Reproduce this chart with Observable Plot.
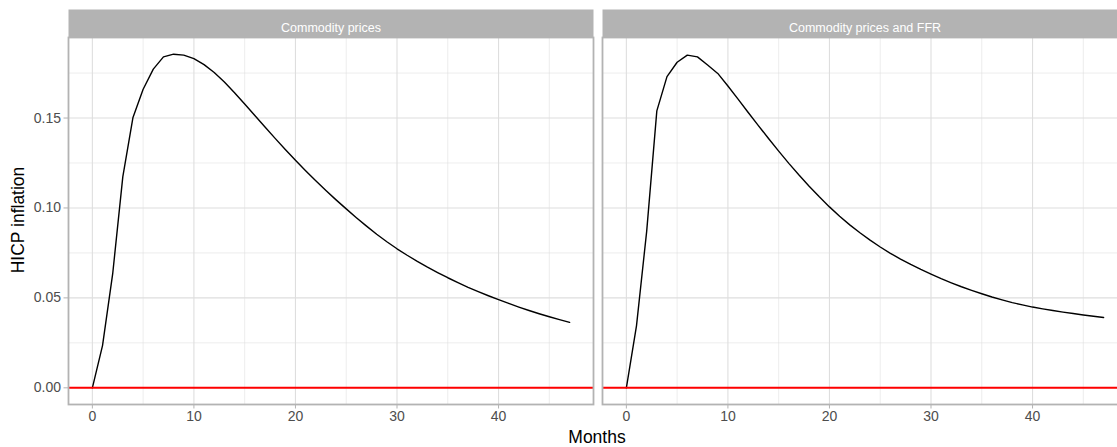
<!DOCTYPE html>
<html>
<head>
<meta charset="utf-8">
<script src="https://cdn.jsdelivr.net/npm/d3@7"></script>
<script src="https://cdn.jsdelivr.net/npm/@observablehq/plot@0.6"></script>
<style>
  html, body { margin: 0; padding: 0; background: #fff; overflow: hidden; }
  #wrap { position: relative; width: 1117px; height: 447px; overflow: hidden; font-family: "Liberation Sans", Arial, sans-serif; }
  #chart svg { max-width: none !important; display: block; }
  #ylab { position: absolute; left: 18px; top: 220px; transform: translate(-50%, -50%) rotate(-90deg); font-size: 17.5px; color: #000; white-space: nowrap; }
  #xlab { position: absolute; left: 597px; top: 437px; transform: translate(-50%, -50%); font-size: 17.5px; color: #000; white-space: nowrap; }
</style>
</head>
<body>
<div id="wrap">
  <div id="chart"></div>
  <div id="ylab">HICP inflation</div>
  <div id="xlab">Months</div>
</div>
<script>
// Impulse responses of HICP inflation, by shock identification
const panels = ["Commodity prices", "Commodity prices and FFR"];
const months = d3.range(48);

const commodityOnly = [
  0.0000, 0.0235, 0.0633, 0.1174, 0.1503, 0.1660, 0.1772, 0.1840, 0.1855, 0.1850,
  0.1830, 0.1797, 0.1753, 0.1700, 0.1641, 0.1578, 0.1514, 0.1450, 0.1387, 0.1325,
  0.1265, 0.1207, 0.1151, 0.1097, 0.1045, 0.0995, 0.0946, 0.0899, 0.0854, 0.0812,
  0.0773, 0.0737, 0.0703, 0.0671, 0.0641, 0.0612, 0.0585, 0.0559, 0.0535, 0.0512,
  0.0490, 0.0469, 0.0449, 0.0430, 0.0412, 0.0395, 0.0379, 0.0364
];

const commodityFFR = [
  0.0000, 0.0346, 0.0870, 0.1540, 0.1730, 0.1810, 0.1850, 0.1840, 0.1795, 0.1748,
  0.1678, 0.1605, 0.1531, 0.1458, 0.1386, 0.1316, 0.1248, 0.1183, 0.1121, 0.1062,
  0.1006, 0.0954, 0.0906, 0.0862, 0.0821, 0.0783, 0.0748, 0.0716, 0.0686, 0.0658,
  0.0632, 0.0607, 0.0584, 0.0562, 0.0542, 0.0523, 0.0505, 0.0489, 0.0474, 0.0461,
  0.0449, 0.0439, 0.0430, 0.0421, 0.0413, 0.0405, 0.0398, 0.0391
];

const xMajor = [0, 10, 20, 30, 40];
const xMinor = [5, 15, 25, 35, 45];
const yMajor = [0, 0.05, 0.10, 0.15];
const yMinor = [0.025, 0.075, 0.125, 0.175];

const series = [commodityOnly, commodityFFR];
const rows = panels.flatMap((p, i) =>
  series[i].map((v, k) => ({panel: p, month: months[k], value: v}))
);

// continuous scales padded by 5% on each side
function expand([lo, hi]) {
  const pad = (hi - lo) * 0.05;
  return [lo - pad, hi + pad];
}
const xDomain = expand(d3.extent(months));
const yDomain = expand(d3.extent(rows, d => d.value));

const grid = "#dedede";
const border = "#b3b3b3";

const chart = Plot.plot({
  width: 1128,
  height: 447,
  marginLeft: 67,
  marginRight: 0,
  marginTop: 37,
  marginBottom: 43,
  style: {fontFamily: "'Liberation Sans', Arial, sans-serif", fontSize: "14px", background: "#fff", maxWidth: "none"},
  fx: {domain: panels, paddingInner: 0.0161, paddingOuter: 0, axis: null},
  x: {domain: xDomain},
  y: {domain: yDomain},
  marks: [
    Plot.gridX({ticks: xMinor, stroke: grid, strokeOpacity: 1, strokeWidth: 0.55}),
    Plot.gridY({ticks: yMinor, stroke: grid, strokeOpacity: 1, strokeWidth: 0.55}),
    Plot.gridX({ticks: xMajor, stroke: grid, strokeOpacity: 1, strokeWidth: 1.1}),
    Plot.gridY({ticks: yMajor, stroke: grid, strokeOpacity: 1, strokeWidth: 1.1}),
    Plot.line(rows, {fx: "panel", x: "month", y: "value", stroke: "black", strokeWidth: 1.4}),
    Plot.ruleY([0], {stroke: "red", strokeWidth: 2}),
    Plot.frame({stroke: border, strokeWidth: 1.8}),
    Plot.axisX({ticks: xMajor, tickSize: 4.5, tickPadding: 2.5, stroke: border, fill: "#4d4d4d", fontSize: 14, label: null}),
    Plot.axisY({ticks: yMajor, tickSize: 4.5, tickPadding: 3, tickFormat: d3.format(".2f"), stroke: border, fill: "#4d4d4d", fontSize: 14, label: null}),
    // facet strips
    Plot.frame({fill: border, stroke: null, insetTop: -28, insetBottom: 367}),
    Plot.text(panels, {fx: d => d, text: d => d, frameAnchor: "top", dy: -14, fill: "white", fontSize: 12.5})
  ]
});

document.getElementById("chart").appendChild(chart);
</script>
</body>
</html>
